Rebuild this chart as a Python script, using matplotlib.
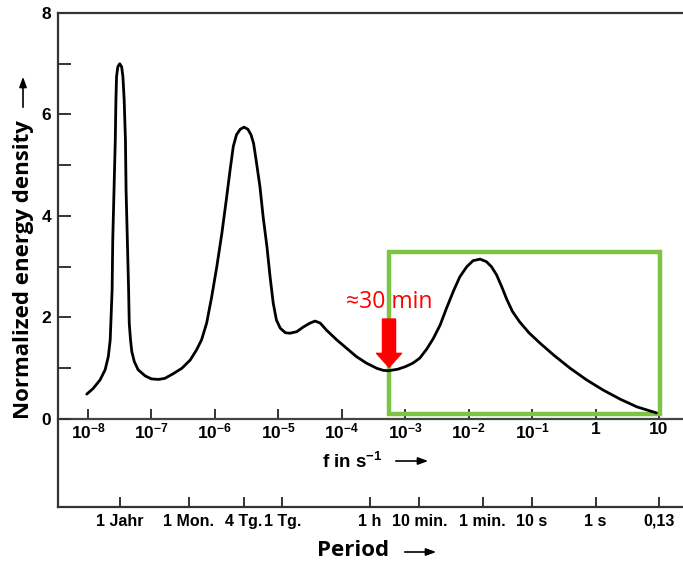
import matplotlib
matplotlib.use("Agg")
import matplotlib.pyplot as plt
from matplotlib.patches import Rectangle, FancyArrowPatch
from matplotlib.ticker import NullLocator
import numpy as np

plt.rcParams['font.family'] = ['Liberation Sans', 'DejaVu Sans']
plt.rcParams['font.weight'] = 'bold'
plt.rcParams['mathtext.fontset'] = 'custom'
plt.rcParams['mathtext.rm'] = 'Liberation Sans:bold'
plt.rcParams['mathtext.bf'] = 'Liberation Sans:bold'
plt.rcParams['mathtext.default'] = 'rm'

# spectrum: log10 of frequency (Hz) and normalized energy density
log_f = [-8.02, -7.92, -7.81, -7.73, -7.68, -7.65, -7.64, -7.62, -7.61, -7.59,
         -7.57, -7.56, -7.55, -7.53, -7.50, -7.47, -7.45, -7.43, -7.41, -7.40,
         -7.38, -7.36, -7.35, -7.33, -7.31, -7.27, -7.21, -7.10, -7.00, -6.89,
         -6.79, -6.66, -6.52, -6.39, -6.29, -6.21, -6.13, -6.05, -5.97, -5.89,
         -5.82, -5.76, -5.71, -5.66, -5.60, -5.54, -5.48, -5.43, -5.39, -5.35,
         -5.29, -5.24, -5.18, -5.13, -5.08, -5.03, -4.97, -4.89, -4.82, -4.71,
         -4.61, -4.50, -4.42, -4.34, -4.24, -4.08, -3.92, -3.77, -3.61, -3.45,
         -3.35, -3.27, -3.12, -3.00, -2.88, -2.77, -2.66, -2.56, -2.45, -2.35,
         -2.24, -2.14, -2.03, -1.93, -1.82, -1.72, -1.64, -1.56, -1.48, -1.40,
         -1.31, -1.20, -1.05, -0.88, -0.66, -0.40, -0.14, 0.12, 0.39, 0.65,
         0.96]
energy = [0.49, 0.60, 0.77, 0.97, 1.23, 1.56, 1.89, 2.54, 3.53, 4.51,
          5.50, 6.29, 6.75, 6.94, 7.00, 6.94, 6.75, 6.29, 5.50, 4.51,
          3.53, 2.54, 1.89, 1.56, 1.33, 1.13, 0.97, 0.85, 0.79, 0.78,
          0.80, 0.89, 1.00, 1.16, 1.36, 1.56, 1.89, 2.41, 3.00, 3.66,
          4.32, 4.91, 5.37, 5.60, 5.71, 5.75, 5.71, 5.60, 5.43, 5.10,
          4.58, 3.99, 3.40, 2.80, 2.28, 1.95, 1.79, 1.70, 1.69, 1.72,
          1.81, 1.89, 1.93, 1.89, 1.75, 1.56, 1.39, 1.23, 1.10, 1.00,
          0.96, 0.95, 0.98, 1.03, 1.10, 1.20, 1.38, 1.58, 1.85, 2.18,
          2.52, 2.80, 3.00, 3.12, 3.15, 3.10, 3.00, 2.84, 2.61, 2.36,
          2.12, 1.92, 1.70, 1.50, 1.26, 1.00, 0.77, 0.57, 0.39, 0.24,
          0.12]

# frequency axis ticks
freq_ticks = [1e-8, 1e-7, 1e-6, 1e-5, 1e-4, 1e-3, 1e-2, 1e-1, 1, 10]
freq_labels = [r'$10^{-8}$', r'$10^{-7}$', r'$10^{-6}$', r'$10^{-5}$', r'$10^{-4}$',
               r'$10^{-3}$', r'$10^{-2}$', r'$10^{-1}$', '1', '10']

# period axis ticks (period in seconds)
period_s = [365.25 * 86400, 30 * 86400, 4 * 86400, 86400, 3600, 600, 60, 10, 1, 0.1]
period_labels = ['1 Jahr', '1 Mon.', '4 Tg.', '1 Tg.', '1 h', '10 min.', '1 min.',
                 '10 s', '1 s', '0,13']

highlight_f = [1 / 1800, 10.5]
highlight_e = [0.1, 3.29]
marker_period = 1800
marker_e = [1.97, 1.02]

W, H = 683, 565
fig = plt.figure(figsize=(W / 100, H / 100), dpi=100)
ax = fig.add_axes([58 / W, 1 - 507 / H, (690 - 58) / W, (507 - 13) / H])

ax.set_xscale('log')
ax.set_xlim(10 ** -8.473, 10 ** 1.489)
ax.set_ylim(-1.734, 8)

for s in ['left', 'top', 'bottom']:
    ax.spines[s].set_linewidth(1.6)
    ax.spines[s].set_color('#333333')
ax.spines['right'].set_visible(False)

ax.set_yticks([0, 2, 4, 6, 8])
ax.set_yticks([1, 3, 5, 7], minor=True)
ax.tick_params(axis='y', which='both', direction='in', length=9, width=1.4,
               color='#333333', labelsize=12.5, pad=5)

f_period = [1 / p for p in period_s]
ax.set_xticks(f_period, period_labels)
ax.xaxis.set_minor_locator(NullLocator())
ax.tick_params(axis='x', which='major', direction='in', length=7, width=1.4,
               color='#333333', labelsize=11.5, pad=5)

# frequency axis sitting on the zero line
sec = ax.secondary_xaxis(1.734 / 9.734, functions=(lambda x: x, lambda x: x))
sec.set_xticks(freq_ticks, freq_labels)
sec.xaxis.set_minor_locator(NullLocator())
sec.spines['bottom'].set_linewidth(1.6)
sec.spines['bottom'].set_color('#444444')
sec.tick_params(axis='x', which='major', direction='in', length=7, width=1.4,
                color='#333333', labelsize=12.5, pad=2)

ax.plot(10 ** np.array(log_f), energy, color='black', lw=2.0, zorder=3,
        solid_joinstyle='round', solid_capstyle='round')

ax.add_patch(Rectangle((highlight_f[0], highlight_e[0]),
                       highlight_f[1] - highlight_f[0],
                       highlight_e[1] - highlight_e[0],
                       fill=False, edgecolor='#7DC443', lw=3.2, zorder=2))

ax.annotate('', xy=(1 / marker_period, marker_e[1]),
            xytext=(1 / marker_period, marker_e[0]),
            arrowprops=dict(arrowstyle='simple,head_width=0.9,head_length=0.5,tail_width=0.47',
                            color='#FF0000', mutation_scale=20, shrinkA=0, shrinkB=0),
            zorder=4)
ax.text(1 / marker_period, 2.31, '≈30 min', color='#FF0000', fontsize=16.5,
        family=['Open Sans', 'DejaVu Sans'], fontweight='normal',
        ha='center', va='center', zorder=5)

# axis titles
fig.text(24 / W, 1 - 270 / H, 'Normalized energy density', rotation=90,
         family=['Open Sans', 'DejaVu Sans'], fontweight='bold', fontsize=16,
         ha='center', va='center')
fig.text(353 / W, 1 - 551 / H, 'Period', family=['Open Sans', 'DejaVu Sans'],
         fontweight='bold', fontsize=16, ha='center', va='center')
fig.text(322 / W, 1 - 462 / H, r'f in s$^{-1}$', fontsize=13.5, fontweight='bold',
         ha='left', va='center')

arrow_kw = dict(transform=fig.transFigure, color='black', lw=1.2,
                arrowstyle='-|>,head_length=0.6,head_width=0.22', mutation_scale=10)
fig.add_artist(FancyArrowPatch((23 / W, 1 - 110 / H), (23 / W, 1 - 74 / H), **arrow_kw))
fig.add_artist(FancyArrowPatch((393 / W, 1 - 461 / H), (431 / W, 1 - 461 / H), **arrow_kw))
fig.add_artist(FancyArrowPatch((402 / W, 1 - 552 / H), (439 / W, 1 - 552 / H), **arrow_kw))

fig.savefig('out.png', dpi=100)
